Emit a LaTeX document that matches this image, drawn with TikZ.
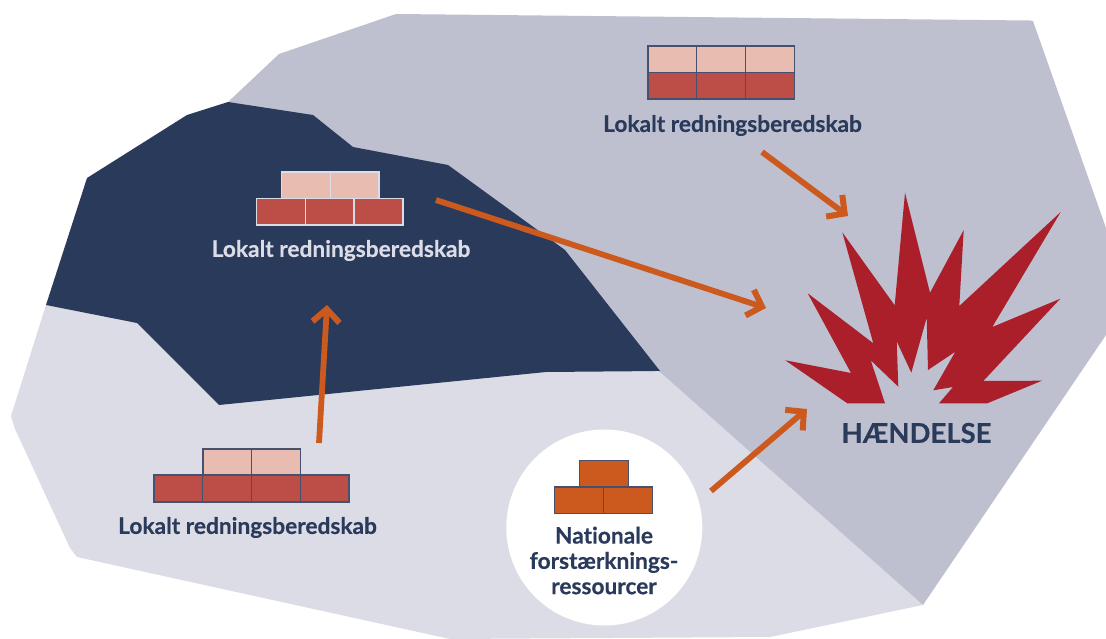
\documentclass[tikz,border=0pt]{standalone}
\usepackage{fontspec}
\setmainfont{Lato}[Ligatures=NoCommon,BoldFeatures={FakeBold=0.35}]
\usetikzlibrary{arrows.meta}
\definecolor{zonemid}{HTML}{BEC0D0}
\definecolor{zonelight}{HTML}{DCDCE6}
\definecolor{navy}{HTML}{2A3A5B}
\definecolor{brickline}{HTML}{46506F}
\definecolor{brickpale}{HTML}{E8BCB1}
\definecolor{brickred}{HTML}{BC4D47}
\definecolor{brickorange}{HTML}{CC5A1E}
\definecolor{burst}{HTML}{AB1F2A}
\tikzset{
  lbl/.style={font=\bfseries\fontsize{22.7}{25.3}\selectfont, text=navy, inner sep=0pt},
  flow/.style={draw=brickorange, line width=5.8pt, -{Straight Barb[length=13pt,width=27pt,line width=6pt]}},
}
\begin{document}
\begin{tikzpicture}[x=1pt,y=-1pt]
\useasboundingbox (0,0) rectangle (1106,639);
\fill[zonelight] (46,305) -- (11,416) -- (15,429) -- (70,548) -- (77,557) -- (450,639) -- (770,637) -- (923,605) -- (660,372) -- cycle;
\fill[zonemid] (228,102) -- (279,54) -- (396,14) -- (1030,20.5) -- (1033,21) -- (1106,228) -- (1106,335) -- (923,605) -- (660,372) -- cycle;
\fill[navy] (228,102) -- (187,115) -- (87,178) -- (46,305) -- (137,323) -- (219,405) -- (546,372) -- (660,371) -- (565,250) -- (448,165) -- (353,147) -- (313,115) -- cycle;
\fill[burst] (905,192.7) -- (930,292.7) -- (963.7,230) -- (959.3,306) -- (1060.7,212) -- (992.3,327) -- (1060.3,298.7) -- (983.3,381) -- (1042,380.7) -- (987.3,403.3) -- (939,403.3) -- (953,387) -- (933.3,390.3) -- (955.3,351.7) -- (928,370) -- (926.7,317.7) -- (911.3,372.7) -- (896.7,341.3) -- (898.3,386.7) -- (870.7,360.3) -- (885,403.3) -- (847.3,403.3) -- (785.3,360.3) -- (851,373) -- (807.7,293.3) -- (873.3,343.3) -- (842.3,232.3) -- (894.7,305.3) -- cycle;
\node[circle, fill=white, minimum size=196pt, inner sep=0pt] (circ) at (604.3,527.5) {};
% top right bricks
\foreach \i in {0,1,2} {
  \filldraw[fill=brickpale, draw=brickline, line width=1.3pt] (648+48.8*\i,46) rectangle (648+48.8*\i+48.8,72.7);
  \filldraw[fill=brickred, draw=brickline, line width=1.3pt] (648+48.8*\i,72.7) rectangle (648+48.8*\i+48.8,99);
}
% dark zone bricks
\foreach \i in {0,1} \filldraw[fill=brickpale, draw=zonelight, line width=1.3pt] (281.3+48.9*\i,172) rectangle (281.3+48.9*\i+48.9,198.3);
\foreach \i in {0,1,2} \filldraw[fill=brickred, draw=zonelight, line width=1.3pt] (256.3+48.9*\i,198.3) rectangle (256.3+48.9*\i+48.9,225);
% lower left bricks
\foreach \i in {0,1} \filldraw[fill=brickpale, draw=brickline, line width=1.3pt] (203+48.75*\i,449) rectangle (203+48.75*\i+48.75,475);
\foreach \i in {0,1,2,3} \filldraw[fill=brickred, draw=brickline, line width=1.3pt] (154+48.75*\i,475) rectangle (154+48.75*\i+48.75,502);
% national bricks
\filldraw[fill=brickorange, draw=brickline, line width=1.3pt] (579.3,460.7) rectangle (628.7,487);
\foreach \i in {0,1} \filldraw[fill=brickorange, draw=brickline, line width=1.3pt] (554.7+49*\i,487) rectangle (554.7+49*\i+49,513.7);
% labels
\node[lbl] (ltop) at (732.5,125.5) {Lokalt redningsberedskab};
\node[lbl, text=zonelight] (lmid) at (341,250.5) {Lokalt redningsberedskab};
\node[lbl] (llow) at (247.5,527.5) {Lokalt redningsberedskab};
\node[lbl, align=center] (lnat) at (604,560.5) {Nationale\\forstærknings-\\ressourcer};
\node[lbl, font=\bfseries\fontsize{27.5}{32}\selectfont] (hand) at (916.5,433) {HÆNDELSE};
% connectors
\coordinate (a1s) at (762,152); \coordinate (a1e) at (848,216);
\coordinate (a2s) at (436,200); \coordinate (a2e) at (766,308);
\coordinate (a3s) at (319,443); \coordinate (a3e) at (327,305);
\coordinate (a4s) at (711,491); \coordinate (a4e) at (807,409);
\draw[flow] (a1s) -- (a1e);
\draw[flow] (a2s) -- (a2e);
\draw[flow] (a3s) -- (a3e);
\draw[flow] (a4s) -- (a4e);
\end{tikzpicture}
\end{document}
